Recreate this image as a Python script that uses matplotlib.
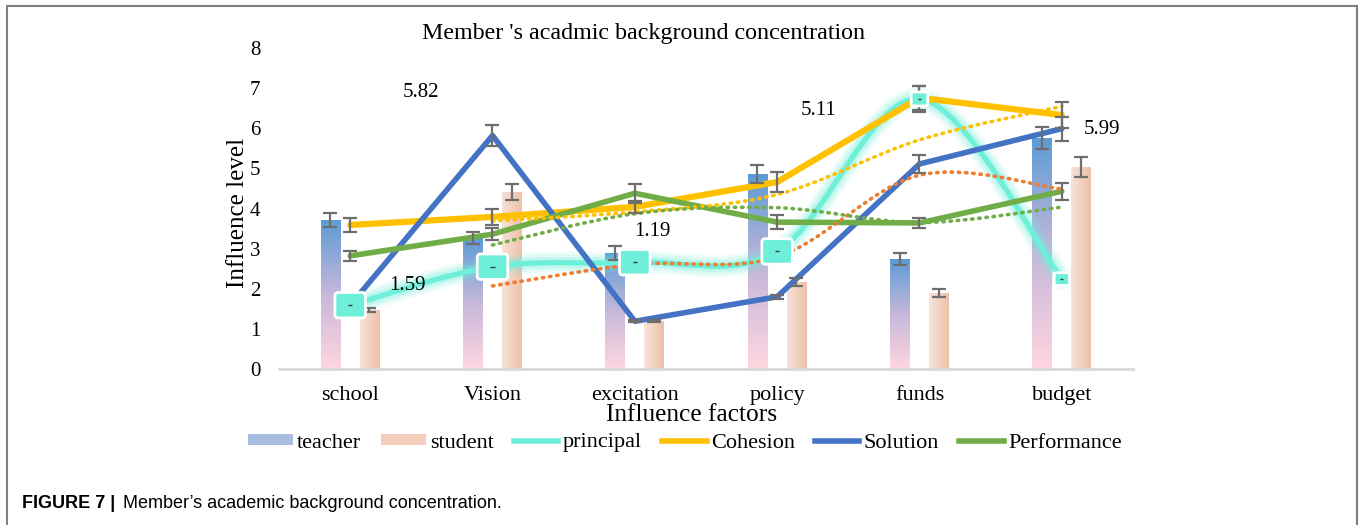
import numpy as np
import pandas as pd
import matplotlib
matplotlib.use('Agg')
import matplotlib.pyplot as plt
from matplotlib.path import Path
from matplotlib.patches import PathPatch, Patch, Rectangle
from matplotlib.lines import Line2D
from matplotlib.colors import LinearSegmentedColormap

# data
categories = ['school', 'Vision', 'excitation', 'policy', 'funds', 'budget']
teacher = [3.72, 3.27, 2.89, 4.86, 2.74, 5.76]
teacher_err = [0.17, 0.15, 0.17, 0.22, 0.14, 0.28]
student = [1.47, 4.41, 1.20, 2.17, 1.90, 5.04]
student_err = [0.05, 0.21, 0.03, 0.10, 0.10, 0.25]
principal = [1.59, 2.55, 2.66, 2.93, 6.73, 2.24]
principal_err = [0, 0, 0, 0, 0.33, 0]
cohesion = [3.59, 3.79, 4.04, 4.66, 6.76, 6.33]
cohesion_err = [0.17, 0.20, 0.15, 0.24, 0.30, 0.33]
solution = [1.59, 5.82, 1.19, 1.80, 5.11, 5.99]
solution_err = [0, 0.27, 0.03, 0.05, 0.22, 0.30]
performance = [2.82, 3.36, 4.38, 3.66, 3.64, 4.43]
performance_err = [0.12, 0.15, 0.24, 0.17, 0.12, 0.21]

# data labels shown for Solution (value, label x, label y)
label_vals = ['5.82', '1.59', '1.19', '5.11', '5.99']
label_x = [0.50, 0.40, 2.12, 3.29, 5.28]
label_y = [6.90, 2.09, 3.42, 6.43, 5.96]

SERIF = ['Liberation Serif', 'DejaVu Serif']
SANS = ['Liberation Sans', 'DejaVu Sans']
TEAL = '#6EEFD9'
YELLOW = '#FFC000'
BLUE = '#4472C4'
GREEN = '#70AD47'
ORANGE = '#ED7D31'
ERR = '#6E6E6E'


def smooth_path(xs, ys):
    # excel style smoothed line as cubic bezier segments
    pts = np.column_stack([xs, ys]).astype(float)
    n = len(pts)
    verts = [pts[0]]
    codes = [Path.MOVETO]
    for i in range(n - 1):
        p0 = pts[i - 1] if i > 0 else pts[i]
        p1 = pts[i]
        p2 = pts[i + 1]
        p3 = pts[i + 2] if i + 2 < n else pts[i + 1]
        c1 = p1 + (p2 - p0) / 6.0
        c2 = p2 - (p3 - p1) / 6.0
        verts += [c1, c2, p2]
        codes += [Path.CURVE4] * 3
    return Path(verts, codes)


fig = plt.figure(figsize=(13.6, 5.25), dpi=100)
ax = fig.add_axes([279 / 1360, 1 - 369 / 525, 854 / 1360, 321 / 525])

x = np.arange(len(categories))
bw = 0.135

# bars with gradients
tbars = ax.bar(x - 0.14, teacher, bw, color='none', zorder=2)
sbars = ax.bar(x + 0.135, student, bw, color='none', zorder=2)
tcmap = LinearSegmentedColormap.from_list('t', ['#FFD6E0', '#C7B8DA', '#5B9BD5'])
scmap = LinearSegmentedColormap.from_list('s', ['#F7E3D9', '#EEC0A8'])
vgrad = np.linspace(0, 1, 256).reshape(-1, 1)
hgrad = np.linspace(0, 1, 256).reshape(1, -1)
for b in tbars:
    bx, by, w, h = b.get_x(), b.get_y(), b.get_width(), b.get_height()
    im = ax.imshow(vgrad, extent=[bx, bx + w, by, by + h], origin='lower',
                   aspect='auto', cmap=tcmap, zorder=2)
    im.set_clip_path(b)
for b in sbars:
    bx, by, w, h = b.get_x(), b.get_y(), b.get_width(), b.get_height()
    im = ax.imshow(hgrad, extent=[bx, bx + w, by, by + h], origin='lower',
                   aspect='auto', cmap=scmap, zorder=2)
    im.set_clip_path(b)

ekw = dict(fmt='none', ecolor=ERR, elinewidth=1.6, capsize=5, capthick=1.6, zorder=7)
ax.errorbar(x - 0.14, teacher, yerr=teacher_err, **ekw)
ax.errorbar(x + 0.135, student, yerr=student_err, **ekw)

# principal smoothed line with glow
ppath = smooth_path(x, principal)
for lw, a in [(16, 0.10), (12, 0.15), (8, 0.25)]:
    ax.add_patch(PathPatch(ppath, fill=False, edgecolor=TEAL, lw=lw, alpha=a,
                           capstyle='round', joinstyle='round', zorder=3))
ax.add_patch(PathPatch(ppath, fill=False, edgecolor=TEAL, lw=3.8, zorder=3))

# straight lines
ax.plot(x, cohesion, color=YELLOW, lw=4.5, zorder=4, solid_capstyle='round')
ax.plot(x, solution, color=BLUE, lw=4, zorder=4, solid_capstyle='round')
ax.plot(x, performance, color=GREEN, lw=4, zorder=4, solid_capstyle='round')

# moving average trendlines (period 2)
for series, col in [(principal, ORANGE), (cohesion, YELLOW), (performance, GREEN)]:
    ma = pd.Series(series).rolling(2).mean().to_numpy()
    mpath = smooth_path(x[1:], ma[1:])
    ax.add_patch(PathPatch(mpath, fill=False, edgecolor=col, lw=2.6,
                           linestyle=(0, (0.4, 1.6)), capstyle='round', zorder=5))

ax.errorbar(x, cohesion, yerr=cohesion_err, **ekw)
ax.errorbar(x, solution, yerr=solution_err, **ekw)
ax.errorbar(x, performance, yerr=performance_err, **ekw)
ax.errorbar(x, principal, yerr=principal_err, **ekw)

# principal markers: rounded rectangles
r = 0.12
rw, rh = 0.6, 0.5
mverts = [(-rw + r, -rh), (rw - r, -rh), (rw, -rh), (rw, -rh + r),
          (rw, rh - r), (rw, rh), (rw - r, rh), (-rw + r, rh), (-rw, rh),
          (-rw, rh - r), (-rw, -rh + r), (-rw, -rh), (-rw + r, -rh), (-rw + r, -rh)]
mcodes = [Path.MOVETO, Path.LINETO, Path.CURVE3, Path.CURVE3, Path.LINETO,
          Path.CURVE3, Path.CURVE3, Path.LINETO, Path.CURVE3, Path.CURVE3,
          Path.LINETO, Path.CURVE3, Path.CURVE3, Path.CLOSEPOLY]
rrect = Path(mverts, mcodes)
msize = [22, 22, 22, 22, 12, 11]
ax.scatter(x, principal, s=[m ** 2 for m in msize], marker=rrect, facecolor=TEAL,
           edgecolor='white', linewidth=2, zorder=8)
ax.scatter(x, principal, s=[m * 0.4 for m in msize], marker='_', color='#3A3A3A',
           linewidth=1, zorder=9)

for v, lx, ly in zip(label_vals, label_x, label_y):
    ax.text(lx, ly, v, ha='center', va='center', fontsize=15, family=SERIF, zorder=10)

ax.set_xlim(-0.5, 5.5)
ax.set_ylim(0, 8)
ax.set_yticks(range(0, 9))
ax.set_xticks(x)
ax.set_xticklabels(categories, family=SERIF, fontsize=16)
ax.set_yticklabels([str(i) for i in range(9)], family=SERIF, fontsize=15)
ax.tick_params(axis='y', length=0, pad=13.5)
ax.tick_params(axis='x', length=0, pad=12)
for s in ['top', 'right', 'left']:
    ax.spines[s].set_visible(False)
ax.spines['bottom'].set_color('#D9D9D9')
ax.spines['bottom'].set_linewidth(2)

fig.text(644 / 1360, 1 - 33 / 525, "Member 's acadmic background concentration",
         ha='center', va='center', fontsize=17.3, family=SERIF)
fig.text(692 / 1360, 1 - 415 / 525, 'Influence factors', ha='center', va='center',
         fontsize=18.3, family=SERIF)
fig.text(238 / 1360, 1 - 213 / 525, 'Influence level', ha='center', va='center',
         rotation=90, fontsize=18, family=SERIF)

handles = [Patch(facecolor='#A9BCE2'), Patch(facecolor='#F2CDBB'),
           Line2D([], [], color=TEAL, lw=4), Line2D([], [], color=YELLOW, lw=4),
           Line2D([], [], color=BLUE, lw=4), Line2D([], [], color=GREEN, lw=4)]
names = ['teacher', 'student', 'principal', 'Cohesion', 'Solution', 'Performance']
fig.legend(handles, names, loc='center', bbox_to_anchor=(685 / 1360, 1 - 443 / 525),
           ncol=6, frameon=False, prop={'family': SERIF, 'size': 16},
           handlelength=2.0, handleheight=0.35, handletextpad=0.2, columnspacing=0.9)

fig.add_artist(Rectangle((7 / 1360, -0.02), 1350 / 1360, 1.02 - 6 / 525,
                         transform=fig.transFigure, fill=False, edgecolor='#7F7F7F', lw=1.5))
fig.text(22 / 1360, 1 - 503 / 525, 'FIGURE 7 |', ha='left', va='center', fontsize=13,
         family=SANS, weight='bold')
fig.text(123 / 1360, 1 - 503 / 525, "Member\u2019s academic background concentration.",
         ha='left', va='center', fontsize=13, family=SANS)

fig.savefig('out.png', dpi=100)
